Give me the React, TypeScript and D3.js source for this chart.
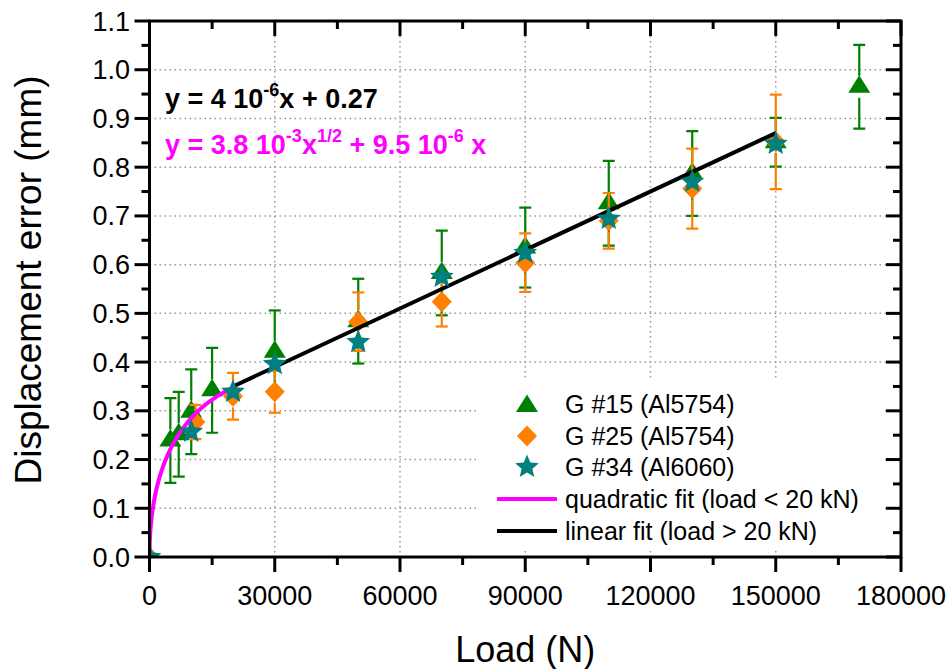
import React from 'react';
import * as d3 from 'd3';

// ---------- data ----------
const loadsG15 = [0, 5000, 7000, 10000, 15000, 30000, 50000, 70000, 90000, 110000, 130000, 150000, 170000];
const valuesG15 = [0, 0.239, 0.252, 0.298, 0.342, 0.421, 0.484, 0.583, 0.635, 0.726, 0.787, 0.851, 0.965];
const errorsG15 = [0, 0.087, 0.087, 0.087, 0.087, 0.085, 0.087, 0.087, 0.082, 0.087, 0.087, 0.05, 0.086];

const loadsG25 = [0, 11000, 20000, 30000, 50000, 70000, 90000, 110000, 130000, 150000];
const valuesG25 = [0, 0.277, 0.33, 0.339, 0.483, 0.524, 0.604, 0.69, 0.756, 0.852];
const errorsG25 = [0, 0.035, 0.048, 0.043, 0.06, 0.051, 0.06, 0.057, 0.082, 0.097];

const loadsG34 = [0, 10000, 20000, 30000, 50000, 70000, 90000, 110000, 130000, 150000];
const valuesG34 = [0, 0.257, 0.339, 0.396, 0.441, 0.575, 0.624, 0.694, 0.77, 0.848];

// fit parameters (as printed on the chart)
const linearSlope = 4e-6;
const linearIntercept = 0.27;
const linearRange = [20000, 150000];
const quadSqrtCoef = 3.8e-3;
const quadLinCoef = -9.5e-6;
const quadRange = [0, 20000];

const xTicks = [0, 30000, 60000, 90000, 120000, 150000, 180000];
const yTicks = [0, 0.1, 0.2, 0.3, 0.4, 0.5, 0.6, 0.7, 0.8, 0.9, 1.0, 1.1];

const legendLabels = ['G #15 (Al5754)', 'G #25 (Al5754)', 'G #34 (Al6060)', 'quadratic fit (load < 20 kN)', 'linear fit (load > 20 kN)'];

// ---------- styling ----------
const W = 952, H = 669;
const left = 149.5, right = 901, top = 21, bottom = 557;
const GREEN = '#008000', ORANGE = '#ff8000', TEAL = '#008080', MAGENTA = '#ff00ff';
const FONT = 'Arial, "Liberation Sans", sans-serif';

const xScale = d3.scaleLinear().domain([0, 180000]).range([left, right]);
const yScale = d3.scaleLinear().domain([0, 1.1]).range([bottom, top]);

function triPath(cx: number, cy: number) {
  return `M${cx - 11},${cy + 6}L${cx + 11},${cy + 6}L${cx},${cy - 11.5}Z`;
}
function diaPath(cx: number, cy: number) {
  return `M${cx},${cy - 10.5}L${cx + 10},${cy}L${cx},${cy + 10.5}L${cx - 10},${cy}Z`;
}
function starPath(cx: number, cy: number) {
  const R = 12.5, r = 5.6;
  const pts: string[] = [];
  for (let i = 0; i < 10; i++) {
    const a = -Math.PI / 2 + (i * Math.PI) / 5;
    const rr = i % 2 === 0 ? R : r;
    pts.push(`${cx + rr * Math.cos(a)},${cy + rr * Math.sin(a)}`);
  }
  return 'M' + pts.join('L') + 'Z';
}

function ErrorBars({ loads, values, errors, color }: any) {
  const gap = 11;
  return (
    <g stroke={color} strokeWidth={2.2} fill="none">
      {loads.map((l: number, i: number) => {
        const e = errors[i];
        if (!e) return null;
        const cx = xScale(l);
        const cy = yScale(values[i]);
        const yt = yScale(values[i] + e);
        const yb = yScale(values[i] - e);
        return (
          <g key={i}>
            {cy - gap > yt && <line x1={cx} x2={cx} y1={cy - gap} y2={yt} />}
            {cy + gap < yb && <line x1={cx} x2={cx} y1={cy + gap} y2={yb} />}
            <line x1={cx - 6} x2={cx + 6} y1={yt} y2={yt} />
            <line x1={cx - 6} x2={cx + 6} y1={yb} y2={yb} />
          </g>
        );
      })}
    </g>
  );
}

export default function App() {
  const linePath = d3.line<number>().x((d) => xScale(d)).y((d) => yScale(linearSlope * d + linearIntercept))(linearRange);
  const quadLoads = d3.range(0, 400).map((i) => quadRange[0] + ((quadRange[1] - quadRange[0]) * Math.pow(i / 399, 2)));
  const quadPath = d3
    .line<number>()
    .x((d) => xScale(d))
    .y((d) => yScale(quadSqrtCoef * Math.sqrt(d) + quadLinCoef * d))(quadLoads);

  const xMinor = d3.range(15000, 180000, 30000);
  const yMinor = d3.range(0, 11).map((i) => 0.05 + i * 0.1);

  const legX = 527, legTextX = 565;
  const legY = [404, 436, 467, 499, 531];

  return (
    <svg width={W} height={H} style={{ position: 'absolute', left: 0, top: 0, background: '#fff' }} fontFamily={FONT}>
      <defs>
        <clipPath id="plotClip">
          <rect x={left} y={top} width={right - left} height={bottom - top} />
        </clipPath>
      </defs>
      <rect x={0} y={0} width={W} height={H} fill="#fff" />

      {/* grid */}
      <g stroke="#999" strokeWidth={1.5} strokeDasharray="1.6 3.4">
        {xTicks.slice(1, -1).map((t) => (
          <line key={'gx' + t} x1={xScale(t)} x2={xScale(t)} y1={top} y2={bottom} />
        ))}
        {yTicks.slice(1, -1).map((t) => (
          <line key={'gy' + t} x1={left} x2={right} y1={yScale(t)} y2={yScale(t)} />
        ))}
      </g>

      {/* legend background */}
      <rect x={476} y={381} width={409} height={167} fill="#fff" />

      {/* equations */}
      <text x={165} y={108} fontSize={27} fontWeight="bold" fill="#000">
        y = 4 10<tspan dy={-12} fontSize={18}>-6</tspan>
        <tspan dy={12}>x + 0.27</tspan>
      </text>
      <text x={165} y={154} fontSize={27} fontWeight="bold" fill={MAGENTA}>
        y = 3.8 10<tspan dy={-12} fontSize={18}>-3</tspan>
        <tspan dy={12}>x</tspan>
        <tspan dy={-12} fontSize={18}>1/2</tspan>
        <tspan dy={12}> + 9.5 10</tspan>
        <tspan dy={-12} fontSize={18}>-6</tspan>
        <tspan dy={12}> x</tspan>
      </text>

      {/* data */}
      <g clipPath="url(#plotClip)">
        <ErrorBars loads={loadsG15} values={valuesG15} errors={errorsG15} color={GREEN} />
        {loadsG15.map((l, i) => (
          <path key={'t' + i} d={triPath(xScale(l), yScale(valuesG15[i]))} fill={GREEN} />
        ))}
        <ErrorBars loads={loadsG25} values={valuesG25} errors={errorsG25} color={ORANGE} />
        {loadsG25.map((l, i) => (
          <path key={'d' + i} d={diaPath(xScale(l), yScale(valuesG25[i]))} fill={ORANGE} />
        ))}
        <path d={quadPath || ''} stroke={MAGENTA} strokeWidth={4} fill="none" />
        <path d={linePath || ''} stroke="#000" strokeWidth={4} fill="none" />
        {loadsG34.map((l, i) => (
          <path key={'s' + i} d={starPath(xScale(l), yScale(valuesG34[i]))} fill={TEAL} />
        ))}
      </g>

      {/* frame */}
      <rect x={left} y={top} width={right - left} height={bottom - top} fill="none" stroke="#000" strokeWidth={3} />

      {/* ticks */}
      <g stroke="#000" strokeWidth={3}>
        {xTicks.map((t) => (
          <g key={'xt' + t}>
            <line x1={xScale(t)} x2={xScale(t)} y1={bottom} y2={bottom + 15} />
            <line x1={xScale(t)} x2={xScale(t)} y1={top} y2={top + 15} />
          </g>
        ))}
        {xMinor.map((t) => (
          <g key={'xm' + t}>
            <line x1={xScale(t)} x2={xScale(t)} y1={bottom} y2={bottom + 8} />
            <line x1={xScale(t)} x2={xScale(t)} y1={top} y2={top + 8} />
          </g>
        ))}
        {yTicks.map((t) => (
          <g key={'yt' + t}>
            <line x1={left - 15} x2={left} y1={yScale(t)} y2={yScale(t)} />
            <line x1={right - 15} x2={right} y1={yScale(t)} y2={yScale(t)} />
          </g>
        ))}
        {yMinor.map((t) => (
          <g key={'ym' + t}>
            <line x1={left - 8} x2={left} y1={yScale(t)} y2={yScale(t)} />
            <line x1={right - 8} x2={right} y1={yScale(t)} y2={yScale(t)} />
          </g>
        ))}
      </g>

      {/* tick labels */}
      <g fontSize={27} fill="#000">
        {xTicks.map((t) => (
          <text key={'xl' + t} x={xScale(t)} y={605} textAnchor="middle">
            {String(t)}
          </text>
        ))}
        {yTicks.map((t) => (
          <text key={'yl' + t} x={130} y={yScale(t) + 9.5} textAnchor="end">
            {t.toFixed(1)}
          </text>
        ))}
      </g>

      {/* axis titles */}
      <text x={(left + right) / 2} y={662} fontSize={36} textAnchor="middle" fill="#000">
        Load (N)
      </text>
      <text transform={`translate(41,${(top + bottom) / 2 - 9}) rotate(-90)`} fontSize={37} textAnchor="middle" fill="#000">
        Displacement error (mm)
      </text>

      {/* legend */}
      <path d={triPath(legX, legY[0] + 2)} fill={GREEN} />
      <path d={diaPath(legX, legY[1])} fill={ORANGE} />
      <path d={starPath(legX, legY[2])} fill={TEAL} />
      <line x1={497} x2={557} y1={legY[3]} y2={legY[3]} stroke={MAGENTA} strokeWidth={4} />
      <line x1={497} x2={557} y1={legY[4]} y2={legY[4]} stroke="#000" strokeWidth={4} />
      <g fontSize={25} fill="#000">
        {legendLabels.map((s, i) => (
          <text key={s} x={legTextX} y={legY[i] + 9}>
            {s}
          </text>
        ))}
      </g>
    </svg>
  );
}
